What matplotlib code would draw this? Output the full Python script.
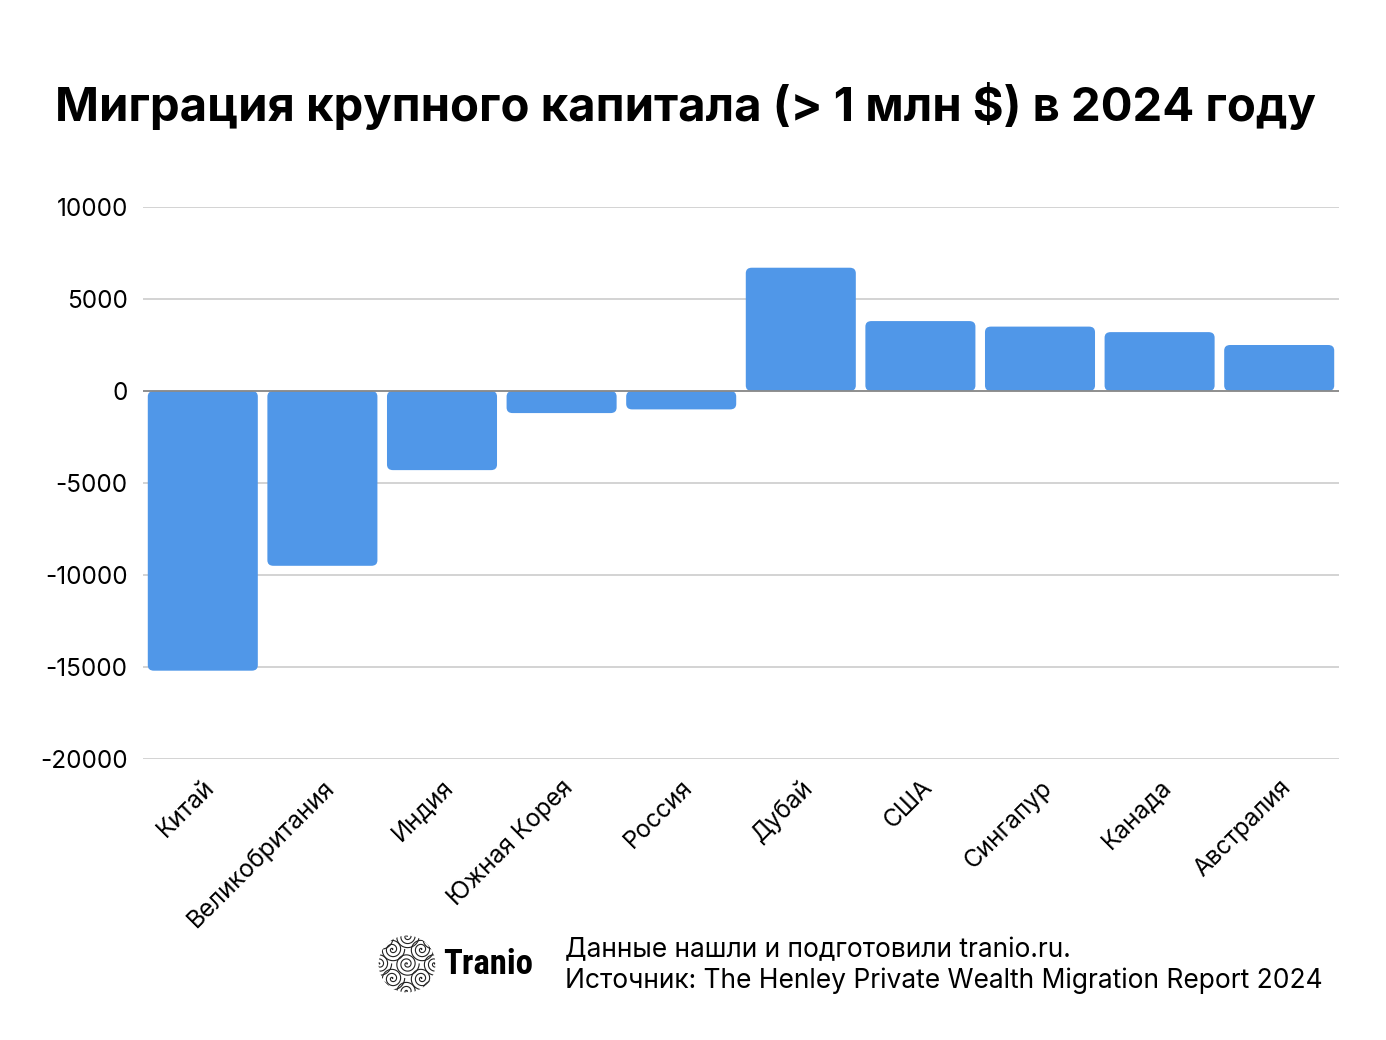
import numpy as np
import matplotlib
matplotlib.use("Agg")
import matplotlib.pyplot as plt
from matplotlib.patches import FancyBboxPatch, Circle

plt.rcParams['font.family'] = ['Inter', 'DejaVu Sans']

# данные
countries = ['Китай', 'Великобритания', 'Индия', 'Южная Корея', 'Россия',
             'Дубай', 'США', 'Сингапур', 'Канада', 'Австралия']
net_flow = [-15200, -9500, -4300, -1200, -1000, 6700, 3800, 3500, 3200, 2500]
y_ticks = [10000, 5000, 0, -5000, -10000, -15000, -20000]

BAR_COLOR = '#5097e8'

fig = plt.figure(figsize=(13.86, 10.40), dpi=100)
fig.patch.set_facecolor('white')
ax = fig.add_axes([143 / 1386, 1 - 759 / 1040, (1339 - 143) / 1386, (759 - 207) / 1040])

x = np.arange(len(countries))
bars = ax.bar(x, net_flow, width=0.92, color=BAR_COLOR, zorder=3)

# скругляем углы столбцов
for b in bars:
    b.set_visible(False)
    y0 = min(b.get_y(), b.get_y() + b.get_height())
    h = abs(b.get_height())
    p = FancyBboxPatch((b.get_x(), y0), b.get_width(), h,
                       boxstyle="round,pad=0,rounding_size=0.05",
                       mutation_aspect=6000, facecolor=BAR_COLOR,
                       edgecolor='none', zorder=3)
    ax.add_patch(p)

ax.set_xlim(-0.5, len(countries) - 0.5)
ax.set_ylim(-20000, 10000)
ax.set_yticks(y_ticks)
ax.set_yticklabels([str(t) for t in y_ticks], fontsize=17.5)
ax.yaxis.grid(True, color='#c8c8c8', linewidth=1.1, zorder=0)
ax.axhline(0, color='#8a8a8a', linewidth=1.3, zorder=4)
ax.tick_params(axis='y', length=0, pad=11)
ax.tick_params(axis='x', length=0, pad=12)
ax.set_xticks(x)
ax.set_xticklabels(countries, rotation=45, ha='right', rotation_mode='anchor', fontsize=17.5)
for s in ax.spines.values():
    s.set_visible(False)

fig.text(55 / 1386, 1 - 107 / 1040, 'Миграция крупного капитала (> 1 млн $) в 2024 году',
         fontsize=34, fontweight='bold', va='center', ha='left')

# логотип
lax = fig.add_axes([378 / 1386, 1 - 993 / 1040, 58 / 1386, 58 / 1040])
lax.set_xlim(-1, 1)
lax.set_ylim(-1, 1)
lax.set_aspect('equal')
lax.axis('off')
clip = Circle((0, 0), 0.98, transform=lax.transData)
centers = [(0, 0), (-0.5, 0.5), (0.5, 0.5), (-0.5, -0.5), (0.5, -0.5),
           (0, 0.95), (0, -0.95), (-0.95, 0), (0.95, 0), (-0.9, 0.9), (0.9, 0.9),
           (-0.9, -0.9), (0.9, -0.9)]
t = np.linspace(0, 6 * np.pi, 400)
for cx, cy in centers:
    r = 0.42 * t / (6 * np.pi)
    ln, = lax.plot(cx + r * np.cos(t), cy + r * np.sin(t), color='#222222', lw=0.8)
    ln.set_clip_path(clip)

fig.text(443 / 1386, 1 - 965 / 1040, 'Tranio', fontsize=25, fontweight='semibold',
         family=['Roboto Condensed', 'Roboto', 'DejaVu Sans'], va='center', ha='left')
fig.text(565 / 1386, 1 - 950 / 1040, 'Данные нашли и подготовили tranio.ru.',
         fontsize=19, va='center', ha='left')
fig.text(565 / 1386, 1 - 981 / 1040, 'Источник: The Henley Private Wealth Migration Report 2024',
         fontsize=19, va='center', ha='left')

fig.savefig('out.png', dpi=100, facecolor='white')
